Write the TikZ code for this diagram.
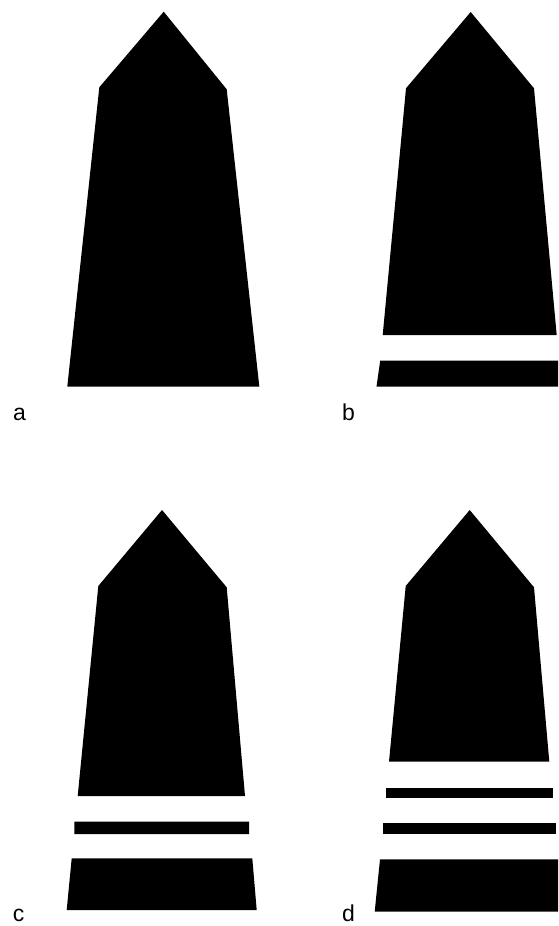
\documentclass[tikz,border=0pt]{standalone}
\usepackage{fontspec}
\setmainfont{Liberation Sans}
\begin{document}
\begin{tikzpicture}[x=1pt,y=-1pt,
  blk/.style={fill=black,draw=none},
  lbl/.style={anchor=base,inner sep=0pt,font=\fontsize{23}{26}\selectfont}]
\useasboundingbox (0,0) rectangle (558,926);
\clip (0,0) rectangle (558,926);
% a
\fill[blk] (163.7,11.7) -- (226.7,89.3) -- (259.3,386.5) -- (67.3,386.5) -- (99.3,87.3) -- cycle;
\node[lbl] (la) at (19.5,420) {a};
% b
\fill[blk] (470.7,12) -- (534,88.3) -- (556.7,335) -- (382.7,335) -- (406,88.3) -- cycle;
\fill[blk] (380.2,360.7) -- (559.5,360.7) -- (562,386.7) -- (376.5,386.7) -- cycle;
\node[lbl] (lb) at (348.5,420) {b};
% c
\fill[blk] (162,510) -- (226.7,587.3) -- (245,796) -- (77.7,796) -- (98.3,586) -- cycle;
\fill[blk] (74.5,821.7) -- (249,821.7) -- (249,834) -- (74.3,834) -- cycle;
\fill[blk] (71.7,858.3) -- (252.3,858.3) -- (256.7,910) -- (66.7,910) -- cycle;
\node[lbl] (lc) at (18.5,921.5) {c};
% d
\fill[blk] (469.7,510) -- (534,587.3) -- (549.3,761.7) -- (389,761.7) -- (405.7,586) -- cycle;
\fill[blk] (386,788.3) -- (552.7,788.3) -- (552.7,798.3) -- (386,798.3) -- cycle;
\fill[blk] (382.7,823.3) -- (556,823.3) -- (556,834) -- (382.7,834) -- cycle;
\fill[blk] (380,859.3) -- (560,859.3) -- (562,911.7) -- (374.7,911.7) -- cycle;
\node[lbl] (ld) at (348.5,921.5) {d};
\end{tikzpicture}
\end{document}
